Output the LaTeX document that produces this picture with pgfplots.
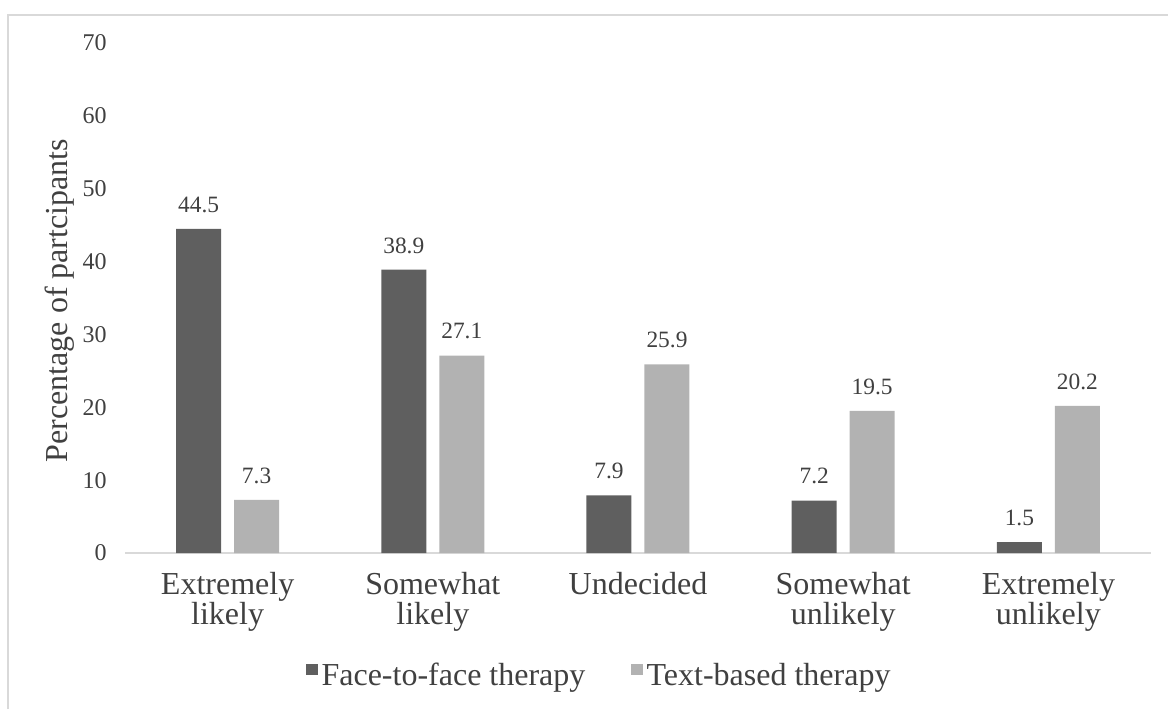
\documentclass[border=0pt]{standalone}
\usepackage{pgfplots}
\pgfplotsset{compat=1.18}
\usepackage{fontspec}
\setmainfont{Liberation Serif}
\definecolor{txt}{RGB}{64,64,64}
\definecolor{darkbar}{RGB}{95,95,95}
\definecolor{lightbar}{RGB}{178,178,178}
\definecolor{frame}{RGB}{217,217,217}
\begin{document}
\begin{tikzpicture}
\path[use as bounding box] (0,0) rectangle (584pt,354.5pt);
\draw[frame, line width=0.8pt] (4pt,0) -- (4pt,347pt) -- (584pt,347pt);
\begin{axis}[
  at={(62.5pt,78pt)}, anchor=south west,
  scale only axis, width=513pt, height=255pt,
  xmin=-0.5, xmax=4.5, ymin=0, ymax=70,
  ytick={0,10,...,70},
  xtick={0,1,2,3,4},
  xticklabels={{Extremely\\likely},{Somewhat\\likely},{Undecided},{Somewhat\\unlikely},{Extremely\\unlikely}},
  axis x line=bottom, axis y line=left,
  axis line style={-},
  x axis line style={draw=frame, line width=0.9pt},
  y axis line style={draw=none},
  major tick length=0pt,
  /pgf/number format/assume math mode=true,
  yticklabel style={font=\fontsize{12}{14}\selectfont, text=txt, xshift=-5.6pt},
  xticklabel style={font=\fontsize{16}{15}\selectfont, text=txt, align=center, yshift=-6pt},
  ylabel={Percentage of partcipants},
  every axis y label/.style={at={(axis description cs:-0.0638,0.495)}, rotate=90, anchor=center,
     font=\fontsize{16}{18}\selectfont, text=txt},
  ybar=6.5pt, bar width=22.5pt,
  nodes near coords,
  every node near coord/.append style={font=\fontsize{11.7}{13}\selectfont, text=txt, yshift=4.6pt},
  nodes near coords style={/pgf/number format/.cd, fixed, fixed zerofill, precision=1},
  legend columns=2,
  legend style={at={(axis description cs:0.463,-0.240)}, anchor=center, draw=none, fill=none,
    font=\fontsize{16}{18}\selectfont, text=txt,
    nodes={inner xsep=1.8pt},
    /tikz/every even column/.append style={column sep=21pt}},
  legend image code/.code={\fill[#1, draw=none] (0pt,0pt) rectangle (6pt,5.8pt);},
]
\addplot[fill=darkbar, draw=none] coordinates {(0,44.5) (1,38.9) (2,7.9) (3,7.2) (4,1.5)};
\addplot[fill=lightbar, draw=none] coordinates {(0,7.3) (1,27.1) (2,25.9) (3,19.5) (4,20.2)};
\legend{Face-to-face therapy, Text-based therapy}
\end{axis}
\end{tikzpicture}
\end{document}
